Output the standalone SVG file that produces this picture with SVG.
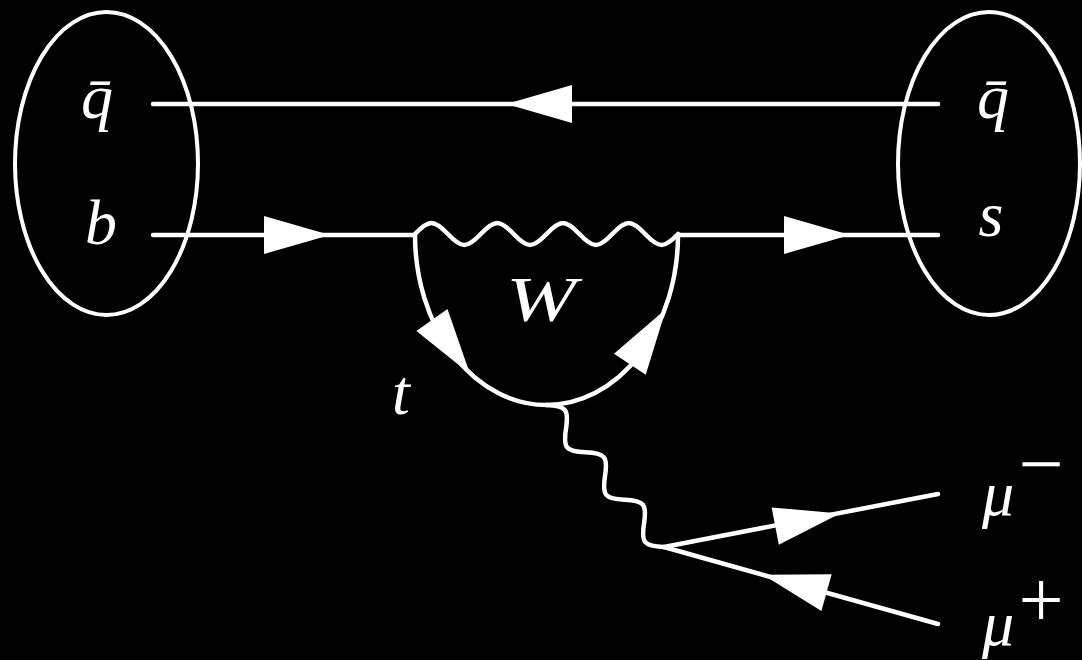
<svg xmlns="http://www.w3.org/2000/svg" xmlns:xlink="http://www.w3.org/1999/xlink" width="1082" height="660" viewBox="0 0 1082 660">
<style>
.ln{fill:none;stroke:#fff;stroke-width:4.5;stroke-linecap:round;stroke-linejoin:round}
.el{fill:none;stroke:#fff;stroke-width:4}
.ah{fill:#fff;stroke:none}
.lb{fill:#fff;font-family:'Liberation Serif','DejaVu Serif',serif;font-style:italic;font-size:64px;text-anchor:middle}
.sp{fill:#fff;font-family:'Liberation Serif','DejaVu Serif',serif;font-size:80px;text-anchor:middle}
</style>
<defs>
<path id="ah" d="M0,0 L-66,-19 L-66,19 Z"/>
</defs>
<rect x="0" y="0" width="1082" height="660" fill="#000"/>
<g id="meson-in">
<ellipse class="el" cx="106.5" cy="163.5" rx="91.5" ry="151.5"/>
<text class="lb" x="97" y="118">q̄</text>
<text class="lb" x="101" y="244">b</text>
</g>
<g id="meson-out">
<ellipse class="el" cx="989" cy="163.5" rx="91" ry="151.5"/>
<text class="lb" x="993" y="118">q̄</text>
<text class="lb" x="991" y="236">s</text>
</g>
<g id="label-W"><text class="lb" x="541" y="321" font-size="68" textLength="70" lengthAdjust="spacingAndGlyphs">W</text></g>
<g id="label-t"><text class="lb" x="401" y="414" font-size="68">t</text></g>
<g id="mu-minus">
<text class="lb" x="998" y="515">μ</text>
<text class="sp" x="1041" y="491">−</text>
</g>
<g id="mu-plus">
<text class="lb" x="998" y="645">μ</text>
<text class="sp" x="1041" y="627">+</text>
</g>
<g id="connectors">
<line class="ln" x1="153" y1="104" x2="938" y2="104"/>
<line class="ln" x1="153" y1="235" x2="415" y2="235"/>
<line class="ln" x1="678" y1="235" x2="938" y2="235"/>
<path class="ln" d="M415,234 c13.95,-14.7 18.93,-14.7 32.88,0 c13.95,14.7 18.93,14.7 32.88,0 c13.95,-14.7 18.93,-14.7 32.88,0 c13.95,14.7 18.93,14.7 32.88,0 c13.95,-14.7 18.93,-14.7 32.88,0 c13.95,14.7 18.93,14.7 32.88,0 c13.95,-14.7 18.93,-14.7 32.88,0 c13.95,14.7 18.93,14.7 32.88,0"/>
<path class="ln" d="M415,235 A131.5,170 0 0 0 546.5,405"/>
<path class="ln" d="M546.5,405 A131.5,170 0 0 0 678,235"/>
<path class="ln" transform="translate(546.5,405) rotate(50.5)" d="M0,0 c13.02,-14.7 17.65,-14.7 30.67,0 c13.02,14.7 17.65,14.7 30.67,0 c13.02,-14.7 17.65,-14.7 30.67,0 c13.02,14.7 17.65,14.7 30.67,0 c13.02,-14.7 17.65,-14.7 30.67,0 c13.02,14.7 17.65,14.7 30.67,0"/>
<line class="ln" x1="664" y1="547" x2="938" y2="494"/>
<line class="ln" x1="664" y1="547" x2="938" y2="624"/>
<use href="#ah" class="ah" transform="translate(506,104) rotate(180)"/>
<use href="#ah" class="ah" transform="translate(330,235)"/>
<use href="#ah" class="ah" transform="translate(850,235)"/>
<use href="#ah" class="ah" transform="translate(470,374) rotate(54.8)"/>
<use href="#ah" class="ah" transform="translate(666,309) rotate(-56.8)"/>
<use href="#ah" class="ah" transform="translate(840,513.5) rotate(-10.95)"/>
<use href="#ah" class="ah" transform="translate(763,574.8) rotate(195.7)"/>
</g>
</svg>
